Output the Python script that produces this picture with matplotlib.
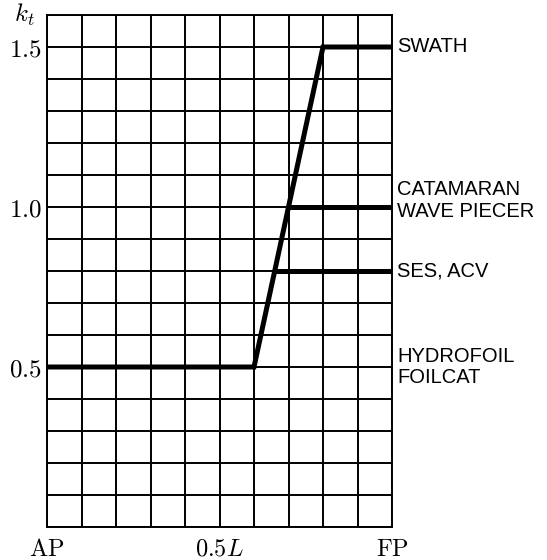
import numpy as np
import matplotlib.pyplot as plt

plt.rcParams['mathtext.fontset'] = 'cm'

# k_t distribution along ship length (x as fraction of L from AP)
base_x = [0.0, 0.6, 0.8, 1.0]
base_k = [0.5, 0.5, 1.5, 1.5]
branch_k = [1.0, 0.8]  # catamaran / SES branches leaving the ramp

labels = [('SWATH', 1.5), ('CATAMARAN\nWAVE PIECER', 1.02), ('SES, ACV', 0.8),
          ('HYDROFOIL\nFOILCAT', 0.5)]
xticks = [0.0, 0.5, 1.0]
xticklabels = [r'$\mathrm{AP}$', r'$0.5L$', r'$\mathrm{FP}$']
yticks = [0.5, 1.0, 1.5]
yticklabels = [r'$0.5$', r'$1.0$', r'$1.5$']

fig = plt.figure(figsize=(5.47, 5.6), dpi=100)
ax = fig.add_axes([47 / 547, 1 - 527 / 560, 345 / 547, 512 / 560])

for gx in np.arange(0, 1.01, 0.1):
    ax.axvline(gx, color='black', lw=1.4, zorder=1)
for gy in np.arange(0, 1.61, 0.1):
    ax.axhline(gy, color='black', lw=1.4, zorder=1)

ax.plot(base_x, base_k, color='black', lw=3.6, solid_joinstyle='miter', zorder=3)
for k in branch_k:
    # start where the ramp crosses this level
    x0 = np.interp(k, base_k[1:3], base_x[1:3])
    ax.plot([x0, 1.0], [k, k], color='black', lw=3.6, zorder=3)

ax.set_xlim(0, 1)
ax.set_ylim(0, 1.6)
for s in ax.spines.values():
    s.set_linewidth(1.4)
ax.set_xticks(xticks)
ax.set_xticklabels(xticklabels, fontsize=17.5)
ax.set_yticks(yticks)
ax.set_yticklabels(yticklabels, fontsize=18)
ax.tick_params(length=0, pad=4)
ax.tick_params(axis='x', pad=7)

ax.text(-0.035, 1.6, r'$k_t$', fontsize=18, ha='right', va='center')

for txt, y in labels:
    ax.text(1.015, y, txt, fontsize=14.5, family='Liberation Sans',
            ha='left', va='center', linespacing=1.15)

plt.savefig('out.png', dpi=100)
